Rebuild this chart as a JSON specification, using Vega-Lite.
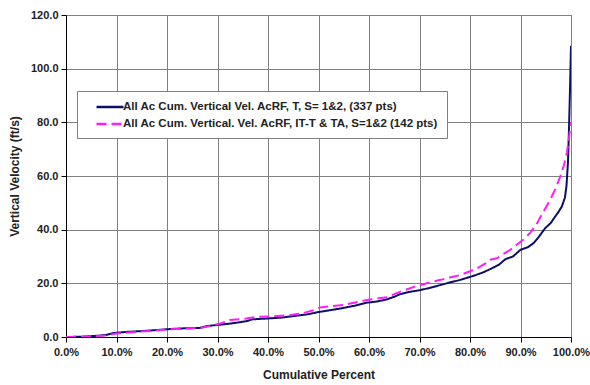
{
  "$schema": "https://vega.github.io/schema/vega-lite/v6.json",
  "width": 505,
  "height": 322,
  "autosize": {"type": "none"},
  "padding": {"left": 66, "top": 15, "right": 19, "bottom": 48},
  "background": "white",
  "config": {
    "font": "Liberation Sans",
    "view": {"stroke": "#808080", "strokeWidth": 1},
    "axis": {
      "labelFont": "Liberation Sans",
      "labelFontSize": 11,
      "labelFontWeight": "bold",
      "labelColor": "#222222",
      "titleFont": "Liberation Sans",
      "titleFontSize": 12,
      "titleFontWeight": "bold",
      "titleColor": "#222222",
      "gridColor": "#808080",
      "gridOpacity": 1,
      "gridWidth": 1,
      "domainColor": "#000000",
      "domainWidth": 1,
      "tickColor": "#000000",
      "tickSize": 5
    },
    "legend": {
      "orient": "none",
      "legendX": 11,
      "legendY": 76,
      "fillColor": "white",
      "strokeColor": "#808080",
      "padding": 8,
      "rowPadding": 3,
      "symbolType": "M-2,0H2",
      "symbolSize": 182,
      "symbolStrokeWidth": 2.5,
      "symbolOffset": 17,
      "labelOffset": 5,
      "labelFont": "Liberation Sans",
      "labelFontSize": 11.5,
      "labelFontWeight": "bold",
      "labelColor": "#222222",
      "labelLimit": 500
    }
  },
  "data": {
    "values": [
      {"series": "A", "pct": 0, "vel": 0},
      {"series": "A", "pct": 3, "vel": 0.1},
      {"series": "A", "pct": 6.5, "vel": 0.5},
      {"series": "A", "pct": 8, "vel": 0.8},
      {"series": "A", "pct": 9.5, "vel": 1.5},
      {"series": "A", "pct": 12, "vel": 1.9},
      {"series": "A", "pct": 15, "vel": 2.2},
      {"series": "A", "pct": 18, "vel": 2.6},
      {"series": "A", "pct": 20, "vel": 2.9},
      {"series": "A", "pct": 23, "vel": 3.2},
      {"series": "A", "pct": 26.5, "vel": 3.4},
      {"series": "A", "pct": 28, "vel": 4.1},
      {"series": "A", "pct": 30, "vel": 4.5},
      {"series": "A", "pct": 33, "vel": 5.1},
      {"series": "A", "pct": 35.7, "vel": 5.9},
      {"series": "A", "pct": 37, "vel": 6.6},
      {"series": "A", "pct": 39.9, "vel": 6.9},
      {"series": "A", "pct": 42.5, "vel": 7.2},
      {"series": "A", "pct": 45, "vel": 7.8},
      {"series": "A", "pct": 47.7, "vel": 8.4},
      {"series": "A", "pct": 50, "vel": 9.3},
      {"series": "A", "pct": 52, "vel": 9.9},
      {"series": "A", "pct": 54.3, "vel": 10.6},
      {"series": "A", "pct": 57, "vel": 11.6},
      {"series": "A", "pct": 59.6, "vel": 12.8},
      {"series": "A", "pct": 61.5, "vel": 13.2},
      {"series": "A", "pct": 63.5, "vel": 14.0},
      {"series": "A", "pct": 65, "vel": 15.0},
      {"series": "A", "pct": 66.2, "vel": 16.0},
      {"series": "A", "pct": 68, "vel": 16.8},
      {"series": "A", "pct": 70.2, "vel": 17.5},
      {"series": "A", "pct": 72, "vel": 18.3},
      {"series": "A", "pct": 74.2, "vel": 19.4},
      {"series": "A", "pct": 76, "vel": 20.3},
      {"series": "A", "pct": 78.1, "vel": 21.3},
      {"series": "A", "pct": 80.7, "vel": 22.8},
      {"series": "A", "pct": 82.5, "vel": 24.0},
      {"series": "A", "pct": 84, "vel": 25.3},
      {"series": "A", "pct": 85.7, "vel": 26.9},
      {"series": "A", "pct": 87, "vel": 29.0},
      {"series": "A", "pct": 88.5, "vel": 30.0},
      {"series": "A", "pct": 90, "vel": 32.5},
      {"series": "A", "pct": 91.5, "vel": 33.5},
      {"series": "A", "pct": 92.6, "vel": 35.0},
      {"series": "A", "pct": 93.5, "vel": 37.0},
      {"series": "A", "pct": 94.9, "vel": 40.6},
      {"series": "A", "pct": 96, "vel": 42.5},
      {"series": "A", "pct": 96.9, "vel": 45.0},
      {"series": "A", "pct": 97.5, "vel": 46.5},
      {"series": "A", "pct": 98.2, "vel": 48.7},
      {"series": "A", "pct": 98.8, "vel": 52.0},
      {"series": "A", "pct": 99.1, "vel": 56.2},
      {"series": "A", "pct": 99.4, "vel": 65.0},
      {"series": "A", "pct": 99.6, "vel": 77.5},
      {"series": "A", "pct": 99.8, "vel": 92.0},
      {"series": "A", "pct": 100, "vel": 108.5},
      {"series": "B", "pct": 0, "vel": 0},
      {"series": "B", "pct": 5, "vel": 0.2},
      {"series": "B", "pct": 8, "vel": 0.6},
      {"series": "B", "pct": 10, "vel": 1.3},
      {"series": "B", "pct": 13, "vel": 1.8},
      {"series": "B", "pct": 17, "vel": 2.3},
      {"series": "B", "pct": 20, "vel": 2.8},
      {"series": "B", "pct": 24, "vel": 3.2},
      {"series": "B", "pct": 27, "vel": 3.5},
      {"series": "B", "pct": 28.5, "vel": 4.1},
      {"series": "B", "pct": 30.5, "vel": 5.0},
      {"series": "B", "pct": 32.4, "vel": 6.3},
      {"series": "B", "pct": 35.7, "vel": 6.9},
      {"series": "B", "pct": 37.7, "vel": 7.5},
      {"series": "B", "pct": 41, "vel": 7.7},
      {"series": "B", "pct": 44.3, "vel": 8.1},
      {"series": "B", "pct": 47, "vel": 8.9},
      {"series": "B", "pct": 49, "vel": 10.0},
      {"series": "B", "pct": 50.3, "vel": 11.0},
      {"series": "B", "pct": 52.5, "vel": 11.5},
      {"series": "B", "pct": 54.9, "vel": 11.9},
      {"series": "B", "pct": 57, "vel": 12.8},
      {"series": "B", "pct": 59.6, "vel": 13.8},
      {"series": "B", "pct": 61.5, "vel": 14.3},
      {"series": "B", "pct": 63.5, "vel": 14.8},
      {"series": "B", "pct": 65, "vel": 16.0},
      {"series": "B", "pct": 66.8, "vel": 17.3},
      {"series": "B", "pct": 68.5, "vel": 18.4},
      {"series": "B", "pct": 70.2, "vel": 19.4},
      {"series": "B", "pct": 72, "vel": 20.3},
      {"series": "B", "pct": 74.2, "vel": 21.3},
      {"series": "B", "pct": 76, "vel": 22.2},
      {"series": "B", "pct": 78.1, "vel": 23.1},
      {"series": "B", "pct": 80, "vel": 24.5},
      {"series": "B", "pct": 81.4, "vel": 25.6},
      {"series": "B", "pct": 83, "vel": 27.3},
      {"series": "B", "pct": 84, "vel": 28.8},
      {"series": "B", "pct": 85.4, "vel": 29.4},
      {"series": "B", "pct": 86.5, "vel": 30.8},
      {"series": "B", "pct": 88, "vel": 32.5},
      {"series": "B", "pct": 89.3, "vel": 34.5},
      {"series": "B", "pct": 90.6, "vel": 36.3},
      {"series": "B", "pct": 92, "vel": 39.0},
      {"series": "B", "pct": 93.3, "vel": 42.5},
      {"series": "B", "pct": 94.5, "vel": 46.5},
      {"series": "B", "pct": 95.9, "vel": 51.3},
      {"series": "B", "pct": 97, "vel": 55.5},
      {"series": "B", "pct": 97.9, "vel": 60.0},
      {"series": "B", "pct": 98.6, "vel": 64.0},
      {"series": "B", "pct": 99.2, "vel": 68.8},
      {"series": "B", "pct": 99.6, "vel": 74.0},
      {"series": "B", "pct": 100, "vel": 80.0}
    ]
  },
  "mark": {"type": "line", "strokeWidth": 2, "clip": true},
  "encoding": {
    "x": {
      "field": "pct",
      "type": "quantitative",
      "scale": {"domain": [0, 100], "nice": false},
      "axis": {
        "values": [0, 10, 20, 30, 40, 50, 60, 70, 80, 90, 100],
        "labelExpr": "format(datum.value, '.1f') + '%'",
        "title": "Cumulative Percent",
        "labelPadding": 4,
        "titlePadding": 12,
        "labelFlush": false
      }
    },
    "y": {
      "field": "vel",
      "type": "quantitative",
      "scale": {"domain": [0, 120], "nice": false},
      "axis": {
        "values": [0, 20, 40, 60, 80, 100, 120],
        "format": ".1f",
        "title": "Vertical Velocity (ft/s)",
        "labelPadding": 3,
        "titlePadding": 9,
        "labelFlush": false
      }
    },
    "color": {
      "field": "series",
      "type": "nominal",
      "scale": {"domain": ["A", "B"], "range": ["#0d0d6b", "#ff1aff"]},
      "legend": {
        "title": null,
        "labelExpr": "datum.value == 'A' ? 'All Ac Cum. Vertical Vel. AcRF, T, S= 1&2, (337 pts)' : 'All Ac Cum. Vertical. Vel. AcRF, IT-T & TA, S=1&2 (142 pts)'"
      }
    },
    "strokeDash": {
      "field": "series",
      "type": "nominal",
      "scale": {"domain": ["A", "B"], "range": [[1, 0], [10, 5]]},
      "legend": {
        "title": null,
        "labelExpr": "datum.value == 'A' ? 'All Ac Cum. Vertical Vel. AcRF, T, S= 1&2, (337 pts)' : 'All Ac Cum. Vertical. Vel. AcRF, IT-T & TA, S=1&2 (142 pts)'"
      }
    },
    "order": {"field": "pct", "type": "quantitative"}
  }
}
